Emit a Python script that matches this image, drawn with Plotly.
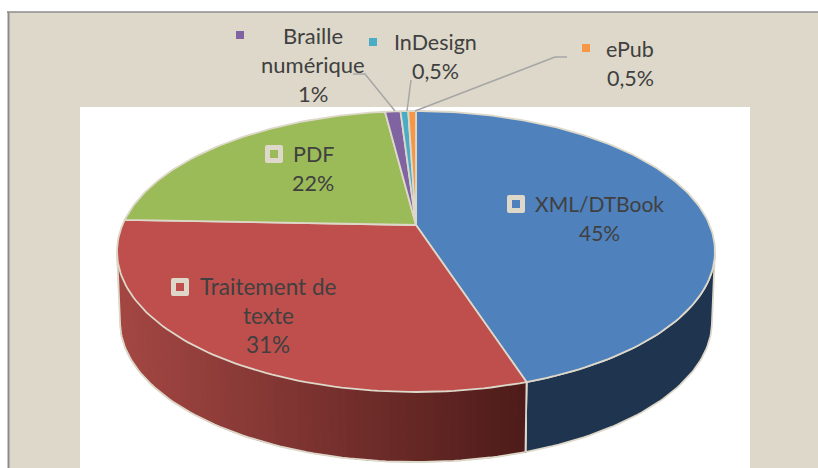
import math
import plotly.graph_objects as go

categories = ["XML/DTBook", "Traitement de texte", "PDF", "Braille numérique", "InDesign", "ePub"]
values = [45, 30.6, 22.4, 1, 0.5, 0.5]
value_labels = ["45%", "31%", "22%", "1%", "0,5%", "0,5%"]
top_colors = ["#4F81BD", "#BF4F4C", "#9BBB59", "#8064A2", "#4BACC6", "#F79646"]
label_lines = [["XML/DTBook"], ["Traitement de", "texte"], ["PDF"], ["Braille", "numérique"], ["InDesign"], ["ePub"]]
label_sizes = [21, 22.5, 21.5, 22, 21.5, 21.5]

BG = "#DDD8C9"
EDGE = "#DDD8C9"
TXT = "#404040"
CX, CY = 416.0, 225.0
A, B, K = 293.6, 135.5, 0.1886
DEPTH = 70.0
LOWER_X = 0.99


def proj(pct, lower=False):
    t = 2 * math.pi * pct / 100.0
    u, v = math.sin(t), math.cos(t)
    d = 1 + K * v
    x = A * u / d
    y = -B * v / d
    if lower:
        return CX + x * LOWER_X, CY + y + DEPTH
    return CX + x, CY + y


def arc(p0, p1, lower=False, n=None):
    n = n or max(2, int(abs(p1 - p0) * 3) + 2)
    pts = [proj(p0 + (p1 - p0) * i / (n - 1), lower) for i in range(n)]
    return [p[0] for p in pts], [p[1] for p in pts]


fig = go.Figure()

starts = [sum(values[:i]) for i in range(len(values))]
ends = [s + v for s, v in zip(starts, values)]


def poly(xs, ys, fill, line=None, width=0):
    fig.add_trace(go.Scatter(x=xs, y=ys, mode="lines", fill="toself", fillcolor=fill,
                             line=dict(color=line or fill, width=width), hoverinfo="skip",
                             showlegend=False))


def wall(p0, p1):
    tx, ty = arc(p0, p1)
    bx, by = arc(p0, p1, lower=True)
    return tx + bx[::-1] + tx[:1], ty + by[::-1] + ty[:1]


# side wall: the visible part runs between the two widest points of the ellipse
SIDE_START = 28.03
SIDE_END = 71.97
wx, wy = wall(SIDE_START, ends[0])
poly(wx, wy, "#1F344F", EDGE, 1.8)

wx, wy = wall(ends[0], SIDE_END)
poly(wx, wy, "#9E4541", EDGE, 1.8)
x_dark, _ = proj(ends[0])
x_light, _ = proj(SIDE_END)
dark, light = (0x4C, 0x1B, 0x19), (0xA4, 0x47, 0x43)
STRIPS = 70
for i in range(STRIPS):
    p = SIDE_END + (ends[0] - SIDE_END) * i / STRIPS
    mx, _ = proj(p)
    f = (mx - x_light) / (x_dark - x_light)
    c = tuple(int(round(l + (d - l) * f)) for l, d in zip(light, dark))
    wx, wy = wall(ends[0], p)
    poly(wx, wy, "rgb(%d,%d,%d)" % c)
# seam between the two wall colours and lower outline
tx, ty = proj(ends[0])
bx, by = proj(ends[0], True)
fig.add_trace(go.Scatter(x=[tx, bx], y=[ty, by], mode="lines", line=dict(color=EDGE, width=1.8),
                         hoverinfo="skip", showlegend=False))
lx, ly = arc(ends[0], SIDE_END, lower=True)
lx = [bx] + lx + [proj(SIDE_END)[0]]
ly = [by] + ly + [proj(SIDE_END)[1]]
fig.add_trace(go.Scatter(x=lx, y=ly, mode="lines", line=dict(color=EDGE, width=1.8),
                         hoverinfo="skip", showlegend=False))

# top face slices
for s, e, c in zip(starts, ends, top_colors):
    ax, ay = arc(s, e)
    poly([CX] + ax + [CX], [CY] + ay + [CY], c, EDGE, 1.8)

# leader lines
leaders = [((353, 74), (365, 74), (395, 111)), ((411, 80), (411, 80), (407, 111)), ((567, 57), (555, 57), (415, 111))]
for (a, b, c) in leaders:
    fig.add_trace(go.Scatter(x=[a[0], b[0], c[0]], y=[a[1], b[1], c[1]], mode="lines",
                             line=dict(color="#A6A6A6", width=1.5), hoverinfo="skip", showlegend=False))

# data labels: x centre and y of the first line, one annotation per line
LINE = 29
label_pos = [(599, 203), (268, 286), (313, 154), (313, 35), (435, 42), (630, 49)]
annots = []
for lines, val, size, (x, y) in zip(label_lines, value_labels, label_sizes, label_pos):
    for j, txt in enumerate(lines + [val]):
        annots.append(dict(x=x, y=y + j * LINE, xref="x", yref="y", text=txt, showarrow=False,
                           align="center", font=dict(family="Lato, Carlito, sans-serif", size=size, color=TXT)))

shapes = [
    dict(type="rect", x0=8, x1=818, y0=12, y1=468, xref="x", yref="y", fillcolor=BG,
         line=dict(width=0), layer="below"),
    dict(type="line", x0=7, x1=818, y0=12, y1=12, xref="x", yref="y", line=dict(color="#8C8C8C", width=1.5), layer="below"),
    dict(type="line", x0=8.5, x1=8.5, y0=12, y1=468, xref="x", yref="y", line=dict(color="#8C8C8C", width=2), layer="below"),
    dict(type="rect", x0=80, x1=750, y0=107, y1=468, xref="x", yref="y", fillcolor="#FFFFFF",
         line=dict(width=0), layer="below"),
]


def rounded(cx, cy, h, r):
    l, t, R, b = cx - h, cy - h, cx + h, cy + h
    return (f"M{l+r},{t} L{R-r},{t} Q{R},{t} {R},{t+r} L{R},{b-r} Q{R},{b} {R-r},{b} "
            f"L{l+r},{b} Q{l},{b} {l},{b-r} L{l},{t+r} Q{l},{t} {l+r},{t} Z")


big_keys = [(516, 204, 0), (180, 287, 1), (274, 154, 2)]
for x, y, i in big_keys:
    shapes.append(dict(type="path", path=rounded(x, y, 9, 2), xref="x", yref="y", fillcolor=BG, line=dict(width=0)))
    shapes.append(dict(type="rect", x0=x - 4, x1=x + 4, y0=y - 4, y1=y + 4, xref="x", yref="y",
                       fillcolor=top_colors[i], line=dict(width=0)))
small_keys = [(240, 35, 3), (373, 42, 4), (586, 48, 5)]
for x, y, i in small_keys:
    shapes.append(dict(type="rect", x0=x - 4, x1=x + 4, y0=y - 4, y1=y + 4, xref="x", yref="y",
                       fillcolor=top_colors[i], line=dict(width=0)))

fig.update_layout(
    width=818, height=468, margin=dict(l=0, r=0, t=0, b=0), paper_bgcolor="#FFFFFF", plot_bgcolor="rgba(0,0,0,0)",
    xaxis=dict(range=[0, 818], visible=False, fixedrange=True),
    yaxis=dict(range=[468, 0], visible=False, fixedrange=True),
    shapes=shapes, annotations=annots, showlegend=False,
)
fig.write_html("out.html", config=dict(displayModeBar=False),
               post_script="document.body.style.margin='0';document.body.style.overflow='hidden';")
